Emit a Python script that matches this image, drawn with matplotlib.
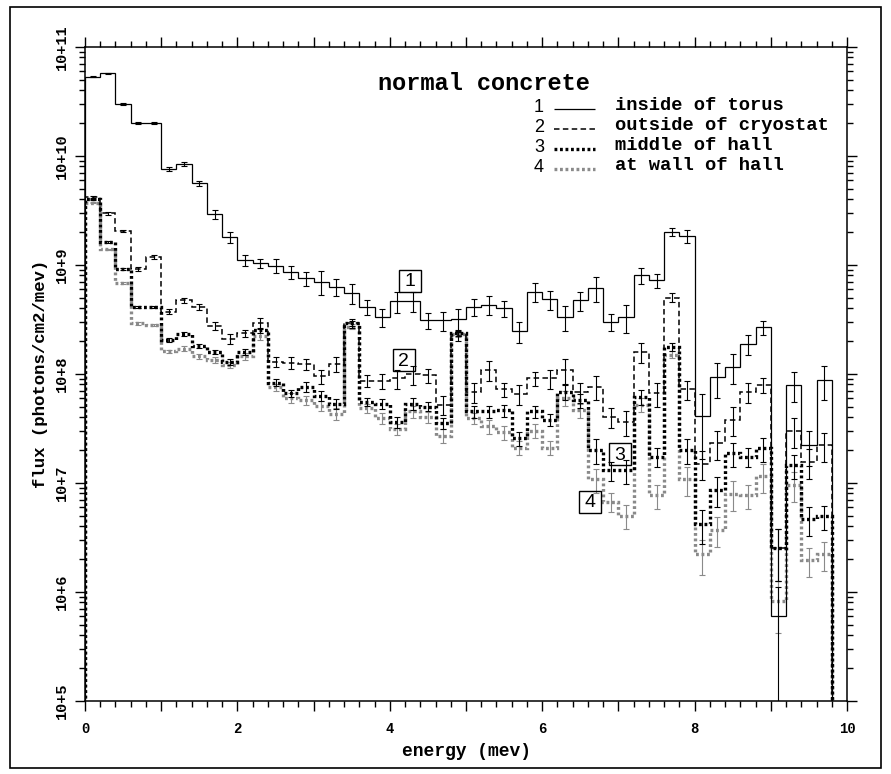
"""Photon flux spectra in normal concrete, MCNP-style histogram plot"""
import numpy as np
import matplotlib.pyplot as plt
from matplotlib.ticker import MultipleLocator, FixedLocator, FuncFormatter, LogLocator, NullFormatter
from matplotlib.lines import Line2D
from matplotlib.patches import Rectangle

W, H = 891, 774
MONO = 'Liberation Mono'
SANS = 'Liberation Sans'

# energy bin edges (mev), 0.2 mev wide, 0 .. 9.8
edges = np.round(np.arange(0, 9.81, 0.2), 1)

# flux per bin (photons/cm2/mev)
inside_torus = [5.3e10, 5.7e10, 3.0e10, 2.0e10, 2.0e10, 7.5e9, 8.4e9, 5.6e9, 2.9e9, 1.8e9,
                1.1e9, 1.03e9, 9.8e8, 8.6e8, 7.5e8, 7.0e8, 6.3e8, 5.5e8, 4.1e8, 3.3e8,
                4.65e8, 4.65e8, 3.1e8, 3.1e8, 3.2e8, 4.1e8, 4.3e8, 4.0e8, 2.45e8, 5.65e8,
                4.8e8, 3.3e8, 4.7e8, 6.1e8, 3.0e8, 3.3e8, 8.0e8, 7.2e8, 2.0e9, 1.83e9,
                4.1e7, 9.3e7, 1.16e8, 1.87e8, 2.66e8, 6.0e5, 7.9e7, 2.2e7, 8.8e7]
outside_cryostat = [4.2e9, 2.97e9, 2.04e9, 9.1e8, 1.18e9, 3.7e8, 4.7e8, 4.1e8, 2.74e8, 2.1e8,
                    2.35e8, 2.9e8, 1.29e8, 1.26e8, 1.23e8, 9.5e7, 1.23e8, 2.9e8, 8.6e7, 8.6e7,
                    9.1e7, 9.9e7, 9.7e7, 5.2e7, 2.2e8, 6.8e7, 1.08e8, 7.2e7, 6.5e7, 9.1e7,
                    9.1e7, 1.08e8, 6.8e7, 7.6e7, 4.0e7, 3.6e7, 1.58e8, 6.6e7, 5.0e8, 7.2e7,
                    1.5e7, 2.3e7, 3.8e7, 6.8e7, 7.9e7, 2.5e6, 3.0e7, 1.56e7, 2.2e7]
middle_hall = [4.0e9, 1.62e9, 9.1e8, 4.1e8, 4.1e8, 2.03e8, 2.3e8, 1.8e8, 1.58e8, 1.29e8,
               1.58e8, 2.5e8, 8.3e7, 6.6e7, 7.6e7, 6.3e7, 5.3e7, 2.9e8, 5.5e7, 5.3e7,
               3.6e7, 5.3e7, 5.0e7, 3.5e7, 2.34e8, 4.5e7, 4.5e7, 4.6e7, 2.55e7, 4.5e7,
               3.8e7, 6.8e7, 5.7e7, 2.0e7, 1.3e7, 1.3e7, 6.1e7, 1.73e7, 1.77e8, 2.0e7,
               4.2e6, 8.6e6, 1.86e7, 1.73e7, 2.07e7, 2.5e6, 1.45e7, 4.6e6, 4.9e6]
wall_hall = [3.7e9, 1.38e9, 6.8e8, 2.9e8, 2.8e8, 1.6e8, 1.7e8, 1.45e8, 1.34e8, 1.2e8,
             1.44e8, 2.2e8, 7.5e7, 6.0e7, 5.7e7, 5.1e7, 4.3e7, 2.7e8, 4.8e7, 3.9e7,
             3.1e7, 4.5e7, 4.0e7, 2.7e7, 2.3e8, 3.9e7, 3.3e7, 2.9e7, 2.1e7, 3.0e7,
             2.1e7, 6.0e7, 4.6e7, 1.07e7, 6.7e6, 5.0e6, 5.2e7, 7.7e6, 1.5e8, 1.07e7,
             2.2e6, 3.7e6, 7.9e6, 7.7e6, 1.14e7, 8.3e5, 9.6e6, 1.95e6, 2.2e6]

# relative errors per bin
err_torus = [0.01, 0.01, 0.02, 0.02, 0.02, 0.04, 0.04, 0.05, 0.10, 0.12,
             0.12, 0.10, 0.15, 0.14, 0.15, 0.25, 0.18, 0.20, 0.15, 0.18,
             0.22, 0.20, 0.17, 0.20, 0.22, 0.18, 0.20, 0.17, 0.22, 0.20,
             0.20, 0.26, 0.20, 0.26, 0.17, 0.28, 0.17, 0.15, 0.08, 0.13,
             0.60, 0.35, 0.30, 0.20, 0.15, 0.85, 0.30, 0.35, 0.35]
err_cryostat = [0.02, 0.03, 0.03, 0.04, 0.04, 0.05, 0.05, 0.06, 0.08, 0.10,
                0.08, 0.12, 0.10, 0.12, 0.12, 0.15, 0.15, 0.10, 0.12, 0.15,
                0.20, 0.20, 0.15, 0.20, 0.10, 0.20, 0.20, 0.15, 0.20, 0.15,
                0.20, 0.25, 0.20, 0.25, 0.20, 0.25, 0.20, 0.25, 0.10, 0.20,
                0.30, 0.30, 0.30, 0.20, 0.15, 0.50, 0.30, 0.30, 0.30]
err_middle = [0.01, 0.02, 0.02, 0.03, 0.03, 0.04, 0.04, 0.05, 0.05, 0.06,
              0.06, 0.06, 0.08, 0.08, 0.10, 0.10, 0.10, 0.05, 0.08, 0.10,
              0.12, 0.12, 0.10, 0.12, 0.06, 0.12, 0.12, 0.12, 0.15, 0.12,
              0.12, 0.15, 0.15, 0.25, 0.20, 0.25, 0.15, 0.20, 0.08, 0.25,
              0.35, 0.30, 0.25, 0.20, 0.25, 0.50, 0.25, 0.30, 0.25]
err_wall = [0.01, 0.02, 0.03, 0.03, 0.03, 0.04, 0.05, 0.05, 0.06, 0.06,
            0.07, 0.07, 0.08, 0.10, 0.10, 0.10, 0.12, 0.05, 0.10, 0.12,
            0.12, 0.12, 0.12, 0.15, 0.06, 0.12, 0.15, 0.15, 0.15, 0.15,
            0.15, 0.15, 0.15, 0.25, 0.20, 0.25, 0.15, 0.25, 0.08, 0.30,
            0.35, 0.30, 0.30, 0.25, 0.30, 0.50, 0.30, 0.30, 0.30]

labels = ['inside of torus', 'outside of cryostat', 'middle of hall', 'at wall of hall']
ytick_vals = [1e5, 1e6, 1e7, 1e8, 1e9, 1e10, 1e11]
ytick_text = ['10+5', '10+6', '10+7', '10+8', '10+9', '10+10', '10+11']

GRAY = '#8a8a8a'
styles = [
    dict(color='black', lw=0.9, ls='-', z=5),
    dict(color='black', lw=1.1, ls=(0, (3.6, 2.2)), z=4),
    dict(color='black', lw=2.4, ls=(0, (0.85, 0.8)), z=3),
    dict(color=GRAY, lw=2.4, ls=(0, (0.85, 0.8)), z=2),
]
series = [(inside_torus, err_torus), (outside_cryostat, err_cryostat),
          (middle_hall, err_middle), (wall_hall, err_wall)]


def fx(px):
    return px / W


def fy(py):
    return 1 - py / H


fig = plt.figure(figsize=(W / 100, H / 100), dpi=100)
ax = fig.add_axes([fx(85), fy(700.7), (847 - 85) / W, (700.7 - 46.7) / H])

centers = 0.5 * (edges[:-1] + edges[1:])
for (vals, errs), st in reversed(list(zip(series, styles))):
    v = np.array(vals)
    e = np.array(errs) * v
    ax.stairs(v, edges, baseline=1e3, color=st['color'], linewidth=st['lw'],
              linestyle=st['ls'], capstyle='butt', joinstyle='miter', zorder=st['z'])
    ax.errorbar(centers, v, yerr=e, fmt='none', ecolor=st['color'], elinewidth=0.8,
                capsize=2.0, capthick=0.8, zorder=st['z'])

ax.set_yscale('log')
ax.set_xlim(0, 10)
ax.set_ylim(1e5, 1e11)

# axis ticks
ax.xaxis.set_major_locator(MultipleLocator(1))
ax.xaxis.set_minor_locator(MultipleLocator(0.2))
ax.xaxis.set_major_formatter(FuncFormatter(lambda x, p: f'{int(round(x))}' if round(x) % 2 == 0 else ''))
ax.yaxis.set_major_locator(FixedLocator(ytick_vals))
ax.yaxis.set_minor_locator(LogLocator(base=10, subs=np.arange(2, 10)))
ax.yaxis.set_minor_formatter(NullFormatter())
ax.set_yticklabels(ytick_text, rotation=90, va='center', family=MONO,
                   fontweight='bold', fontsize=11)
for lab in ax.get_xticklabels():
    lab.set_family(MONO)
    lab.set_fontweight('bold')
    lab.set_fontsize(10)
ax.tick_params(which='both', direction='out', top=True, right=True, width=1.0, color='black')
ax.tick_params(which='major', length=7.5)
ax.tick_params(which='minor', length=4)
ax.tick_params(axis='x', which='major', pad=8)
ax.tick_params(axis='y', which='major', pad=4)
for sp in ax.spines.values():
    sp.set_linewidth(1.1)

ax.set_xlabel('energy (mev)', family=MONO, fontweight='bold', fontsize=13, labelpad=5)
ax.set_ylabel('flux (photons/cm2/mev)', family=MONO, fontweight='bold', fontsize=12.5, labelpad=5)

# legend block
fig.text(fx(484), fy(84), 'normal concrete', family=MONO, fontweight='bold',
         fontsize=17, ha='center', va='center')
row_y = [105, 125, 145, 165]
for i, (lab, st) in enumerate(zip(labels, styles)):
    y = row_y[i]
    fig.text(fx(544), fy(y + 3), str(i + 1), family=SANS, fontsize=13,
             ha='right', va='center')
    fig.add_artist(Line2D([fx(554), fx(595)], [fy(y + 4), fy(y + 4)], transform=fig.transFigure,
                          color=st['color'], lw=st['lw'], ls=st['ls'],
                          solid_capstyle='butt', dash_capstyle='butt'))
    fig.text(fx(615), fy(y), lab, family=MONO, fontweight='bold', fontsize=13.5,
             ha='left', va='center')

# boxed curve numbers
boxes = [(399, 270), (392.7, 349.3), (609, 443.3), (579.3, 490.7)]
for i, (bx, by) in enumerate(boxes):
    fig.add_artist(Rectangle((fx(bx), fy(by + 22)), 22 / W, 22 / H, transform=fig.transFigure,
                             fill=False, edgecolor='black', lw=1.0))
    fig.text(fx(bx + 11), fy(by + 12), str(i + 1), family=SANS, fontsize=14,
             ha='center', va='center')

# outer frame
fig.add_artist(Rectangle((fx(10), fy(768)), (881 - 10) / W, (768 - 7) / H,
                         transform=fig.transFigure, fill=False, edgecolor='black', lw=1.2))

fig.savefig('out.png', dpi=100)
